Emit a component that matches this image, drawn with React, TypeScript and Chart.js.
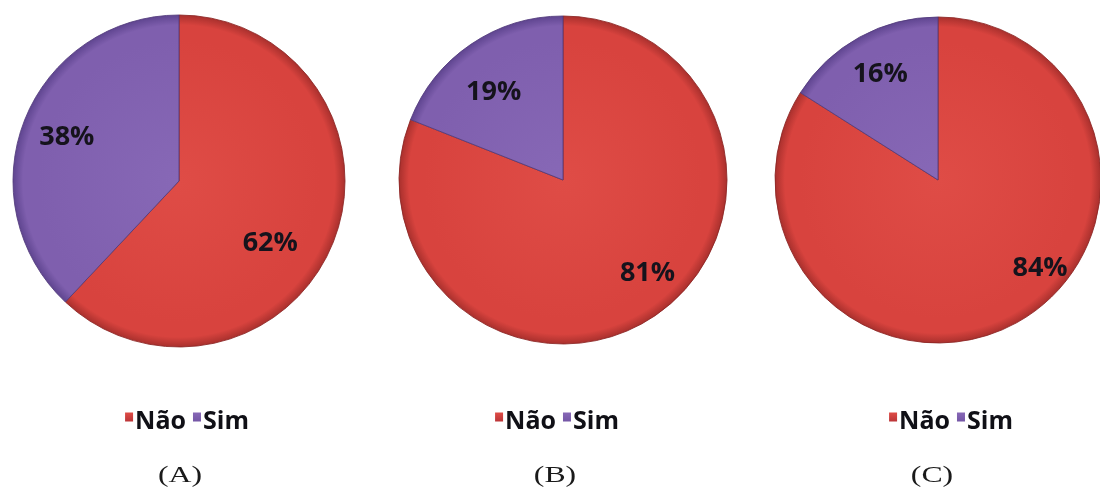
import React, { useEffect, useRef } from 'react';
import { Chart, registerables } from 'chart.js';

Chart.register(...registerables);

// Answer categories and the share of each, one pie per group
const categories = ['Não', 'Sim'];
const panelNames = ['(A)', '(B)', '(C)'];
const naoPercent = [62, 81, 84];
const simPercent = [38, 19, 16];

// Slice styling: [Não, Sim]
const sliceColors = ['#d8433e', '#7f5fae'];
const sliceLightColors = ['#df4c46', '#8768b6'];
const sliceEdgeColors = ['#a9302d', '#5f4590'];
const legendSwatchColors = ['#bb3538', '#7456a6'];

// Panel geometry (page pixels)
const PAGE_W = 1100;
const PAGE_H = 491;
const CANVAS_W = 360;
const pieCenterX = [179, 563, 938];
const pieCenterY = [181, 180, 180];
const pieRadius = [166, 164, 163];
const legendCenterX = [187, 557, 951];
const legendBaselineY = 429;
const captionCenterX = [180, 555, 932];

// Percentage label placement per slice: angular nudge (deg, clockwise) and radius fraction
const labelAngleShift = [
  [12, 0.6],
  [-8.5, -3.6],
  [-21, 0.6],
];
const labelRadiusFrac = [
  [0.66, 0.73],
  [0.76, 0.69],
  [0.82, 0.75],
];

const LABEL_FONT = 'bold 27px "Open Sans", "Noto Sans", sans-serif';
const LEGEND_FONT = 'bold 25px "Open Sans", "Noto Sans", sans-serif';

function PiePanel({ index }: { index: number }) {
  const canvasRef = useRef<HTMLCanvasElement | null>(null);

  useEffect(() => {
    const canvas = canvasRef.current;
    if (!canvas) return;
    const cy = pieCenterY[index];
    const radius = pieRadius[index];
    const left = pieCenterX[index] - CANVAS_W / 2;

    const percentLabels = {
      id: 'percentLabels',
      afterDatasetsDraw(chart: any) {
        const ctx = chart.ctx;
        const meta = chart.getDatasetMeta(0);
        const values = chart.data.datasets[0].data as number[];
        ctx.save();
        ctx.font = LABEL_FONT;
        ctx.fillStyle = '#15131c';
        ctx.textAlign = 'center';
        ctx.textBaseline = 'alphabetic';
        meta.data.forEach((arc: any, i: number) => {
          const p = arc.getProps(['x', 'y', 'startAngle', 'endAngle', 'outerRadius'], true);
          const mid = (p.startAngle + p.endAngle) / 2 + (labelAngleShift[index][i] * Math.PI) / 180;
          const r = p.outerRadius * labelRadiusFrac[index][i];
          const tx = p.x + Math.cos(mid) * r;
          const ty = p.y + Math.sin(mid) * r;
          ctx.fillText(`${values[i]}%`, tx, ty + 9.5);
        });
        ctx.restore();
      },
    };

    const swatchLegend = {
      id: 'swatchLegend',
      afterDraw(chart: any) {
        const ctx = chart.ctx;
        const labels = chart.data.labels as string[];
        const sqW = 8;
        const sqH = 9;
        const gap = 2;
        const spacing = 7;
        ctx.save();
        ctx.font = LEGEND_FONT;
        const widths = labels.map((t) => ctx.measureText(t).width);
        const total = widths.reduce((s, w) => s + sqW + gap + w, 0) + spacing * (labels.length - 1);
        let x = legendCenterX[index] - left - total / 2;
        const sqTop = legendBaselineY - 16.5;
        labels.forEach((t, i) => {
          const g = ctx.createLinearGradient(0, sqTop, 0, sqTop + sqH);
          g.addColorStop(0, sliceLightColors[i]);
          g.addColorStop(1, legendSwatchColors[i]);
          ctx.fillStyle = g;
          ctx.fillRect(x, sqTop, sqW, sqH);
          x += sqW + gap;
          ctx.fillStyle = '#101016';
          ctx.textAlign = 'left';
          ctx.textBaseline = 'alphabetic';
          ctx.fillText(t, x, legendBaselineY);
          x += widths[i] + spacing;
        });
        ctx.restore();
      },
    };

    const shade = (i: number) => (c: any) => {
      const chart = c.chart;
      const area = chart.chartArea;
      if (!area) return sliceColors[i];
      const x = (area.left + area.right) / 2;
      const y = (area.top + area.bottom) / 2;
      const g = chart.ctx.createRadialGradient(x, y, 0, x, y, radius);
      g.addColorStop(0, sliceLightColors[i]);
      g.addColorStop(0.85, sliceColors[i]);
      g.addColorStop(0.94, sliceColors[i]);
      g.addColorStop(1, sliceEdgeColors[i]);
      return g;
    };

    const chart = new Chart(canvas, {
      type: 'pie',
      data: {
        labels: categories,
        datasets: [
          {
            data: [naoPercent[index], simPercent[index]],
            backgroundColor: (c: any) => shade(c.dataIndex)(c),
            borderColor: ['rgba(140,38,36,0.85)', 'rgba(84,60,124,0.85)'],
            borderWidth: 1,
            radius: radius,
          },
        ],
      },
      options: {
        responsive: false,
        animation: false,
        layout: { padding: { top: 0, left: 0, right: 0, bottom: PAGE_H - 2 * cy } },
        plugins: {
          legend: { display: false },
          tooltip: { enabled: false },
        },
      },
      plugins: [percentLabels, swatchLegend],
    });
    return () => chart.destroy();
  }, [index]);

  return (
    <canvas
      ref={canvasRef}
      width={CANVAS_W}
      height={PAGE_H}
      style={{
        position: 'absolute',
        left: pieCenterX[index] - CANVAS_W / 2,
        top: 0,
        width: CANVAS_W,
        height: PAGE_H,
        display: 'block',
      }}
    />
  );
}

export default function App() {
  return (
    <div
      style={{
        position: 'absolute',
        left: 0,
        top: 0,
        width: PAGE_W,
        height: PAGE_H,
        overflow: 'hidden',
        background: '#ffffff',
      }}
    >
      {panelNames.map((_, i) => (
        <PiePanel key={i} index={i} />
      ))}
      {panelNames.map((name, i) => (
        <div
          key={name}
          style={{
            position: 'absolute',
            left: captionCenterX[i] - 60,
            top: 461,
            width: 120,
            textAlign: 'center',
            fontFamily: '"Liberation Serif", "DejaVu Serif", serif',
            fontSize: 23,
            lineHeight: '28px',
            color: '#1a1a1a',
            transform: 'scaleX(1.38)',
          }}
        >
          {name}
        </div>
      ))}
    </div>
  );
}
